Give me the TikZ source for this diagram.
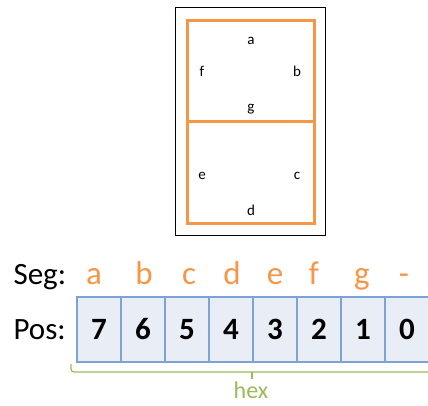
\documentclass[tikz,border=0pt]{standalone}
\usepackage{fontspec}
\setmainfont{Carlito}
\usepackage{xcolor}
\definecolor{segorange}{HTML}{F79646}
\definecolor{hexgreen}{HTML}{9BBB59}
\definecolor{cellfill}{HTML}{E9EEF6}
\definecolor{cellline}{HTML}{7DA3D6}

\begin{document}
\begin{tikzpicture}[x=1pt,y=-1pt,
        cell/.style={draw=cellline, fill=cellfill, line width=1.2pt, minimum width=44pt, minimum height=65pt, inner sep=0pt, font=\fontsize{31}{34}\selectfont\bfseries},
        seglbl/.style={anchor=base, font=\fontsize{15}{17}\selectfont},
        seg/.style={anchor=base, text=segorange, font=\fontsize{33}{36}\selectfont},
        big/.style={anchor=base west, font=\fontsize{31}{34}\selectfont}]
        \useasboundingbox (0,0) rectangle (428,406);

        % display
        \node [draw, line width=0.9pt, minimum width=150pt, minimum height=228pt, inner sep=0pt] (frame) at (250,121) {};
        \node [draw=segorange, line width=3pt, minimum width=127pt, minimum height=101pt, inner sep=0pt] (upper) at (250.5,71.5) {};
        \node [draw=segorange, line width=3pt, minimum width=127pt, minimum height=101pt, inner sep=0pt] (lower) at (250.5,172.5) {};
        \node [seglbl] (a) at (251,45) {a};
        \node [seglbl] (f) at (202,77) {f};
        \node [seglbl] (b) at (297,77) {b};
        \node [seglbl] (g) at (251,112) {g};
        \node [seglbl] (e) at (202,180) {e};
        \node [seglbl] (c) at (297,180) {c};
        \node [seglbl] (d) at (251,215) {d};

        % segments
        \node [big] (seglabel) at (10,284) {Seg:};
        \node [seg] (sa) at (94,284) {a};
        \node [seg] (sb) at (144,284) {b};
        \node [seg] (sc) at (189,284) {c};
        \node [seg] (sd) at (232,284) {d};
        \node [seg] (se) at (275,284) {e};
        \node [seg] (sf) at (314,284) {f};
        \node [seg] (sg) at (362,284) {g};
        \node [seg] (sdash) at (404,284) {-};

        % positions
        \node [big] (poslabel) at (10,339) {Pos:};
        \node [cell] (p7) at (99,329.5) {7};
        \node [cell] (p6) at (143,329.5) {6};
        \node [cell] (p5) at (187,329.5) {5};
        \node [cell] (p4) at (231,329.5) {4};
        \node [cell] (p3) at (275,329.5) {3};
        \node [cell] (p2) at (319,329.5) {2};
        \node [cell] (p1) at (363,329.5) {1};
        \node [cell] (p0) at (407,329.5) {0};

        % hex brace
        \coordinate (bl) at (71,364);
        \coordinate (bm) at (252,379);
        \coordinate (br) at (440,372);
        \draw [hexgreen, line width=1.2pt, rounded corners=3pt] (bl) |- (br);
        \draw [hexgreen, line width=1.2pt] (bm) -- (bm |- br);
        \node [text=hexgreen, font=\fontsize{24}{26}\selectfont] (hex) at (251,390) {hex};
    \end{tikzpicture}
\end{document}
